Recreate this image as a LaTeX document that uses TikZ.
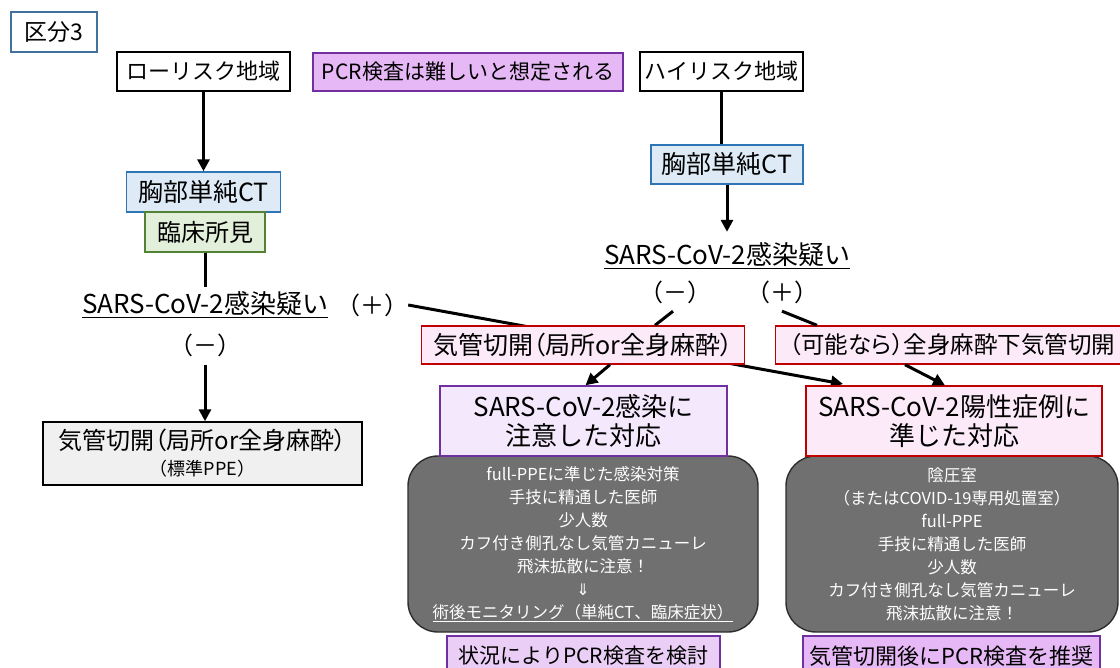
\documentclass[tikz,border=0pt]{standalone}
\usepackage{fontspec}
\setmainfont{Noto Sans CJK JP}
\newfontfamily\pfont[RawFeature=+palt]{Noto Sans CJK JP}
\newfontfamily\dvfont{DejaVu Sans}
\usetikzlibrary{arrows.meta,calc}
\definecolor{kubunB}{RGB}{65,113,156}
\definecolor{blueF}{RGB}{222,235,247}
\definecolor{blueB}{RGB}{46,117,182}
\definecolor{greenF}{RGB}{226,239,218}
\definecolor{greenB}{RGB}{84,130,53}
\definecolor{pinkF}{RGB}{252,234,248}
\definecolor{redB}{RGB}{192,0,0}
\definecolor{lavF}{RGB}{244,232,252}
\definecolor{purpB}{RGB}{112,48,160}
\definecolor{violF}{RGB}{230,184,245}
\definecolor{violL}{RGB}{234,206,246}
\definecolor{darkF}{RGB}{112,112,112}
\definecolor{darkB}{RGB}{45,45,45}
\definecolor{grayF}{RGB}{240,240,240}
\newcommand{\fs}[1]{\fontsize{#1}{#1}\selectfont}
\tikzset{
  box/.style={draw, line width=1.4pt, inner sep=0pt, align=center},
  lbl/.style={inner sep=0pt, align=center},
  conn/.style={line width=3pt},
  arr/.style={line width=3pt, -{Triangle[length=12pt,width=12pt]}},
  darkbox/.style={draw=darkB, fill=darkF, line width=1.4pt, rounded corners=30pt, inner sep=0pt, align=center, text=white, font={\fontsize{16.5}{23}\selectfont}},
}
\begin{document}
\begin{tikzpicture}[x=1pt,y=-1pt]
\useasboundingbox (0,0) rectangle (1120,668);
\clip (0,0) rectangle (1120,668);
\fill[white] (0,0) rectangle (1120,668);

% top row
\node[box, draw=kubunB, fill=white, minimum width=86pt, minimum height=40pt, font=\fs{23}] (kubun) at (54,32) {区分3};
\node[box, fill=white, minimum width=173pt, minimum height=39pt, font=\fs{22}] (low) at (203.5,71.5) {ローリスク地域};
\node[box, draw=purpB, fill=violF, minimum width=310pt, minimum height=38pt, font=\fs{21}] (pcr) at (468,72) {PCR検査は難しいと想定される};
\node[box, fill=white, minimum width=163pt, minimum height=39pt, font=\fs{22}] (high) at (721.5,71.5) {ハイリスク地域};

% left branch
\node[box, draw=blueB, fill=blueF, minimum width=154pt, minimum height=40pt, font=\fs{25}] (ctL) at (203.5,192) {胸部単純CT};
\node[box, draw=greenB, fill=greenF, minimum width=120pt, minimum height=40pt, font=\fs{24}] (clinL) at (205,232) {臨床所見};
\node[lbl, minimum height=36pt, font=\fs{26}] (susL) at (205,305) {\underline{SARS-CoV-2感染疑い}};
\node[lbl, minimum height=36pt, font=\fs{24}] (plusL) at (372,305) {（＋）};
\node[lbl, minimum height=40pt, font=\fs{24}] (minusL) at (205,345) {（－）};
\node[box, fill=grayF, minimum width=319pt, minimum height=63pt, font={\pfont\fontsize{24}{26}\selectfont}] (stdL) at (202.5,453.5)
  {気管切開（局所or全身麻酔）\\\normalfont\fs{18}（標準PPE）};

% right branch
\node[box, draw=blueB, fill=blueF, minimum width=152pt, minimum height=39pt, font=\fs{25}] (ctR) at (727,164.5) {胸部単純CT};
\node[lbl, minimum height=48pt, font=\fs{26}] (susR) at (727,256) {\underline{SARS-CoV-2感染疑い}};
\node[lbl, minimum height=30pt, font=\fs{24}] (minusR) at (675,292) {（－）};
\node[lbl, minimum height=30pt, font=\fs{24}] (plusR) at (782,292) {（＋）};

% long line behind boxes
\coordinate (posIn) at (843,384);
\draw[arr] (plusL.east) -- (posIn);

\node[box, draw=redB, fill=pinkF, minimum width=323pt, minimum height=38pt, font=\pfont\fs{25}] (trachR) at (583,345) {気管切開（局所or全身麻酔）};
\node[box, draw=redB, fill=pinkF, minimum width=352pt, minimum height=38pt, font=\pfont\fs{23.5}, anchor=west] (possible) at (775,345) {\hspace*{14pt}（可能なら）全身麻酔下気管切開\hspace*{22pt}};

\node[darkbox, minimum width=350pt, minimum height=176pt] (darkL) at (583,544)
  {full-PPEに準じた感染対策\\手技に精通した医師\\少人数\\カフ付き側孔なし気管カニューレ\\飛沫拡散に注意！\\{\dvfont\fs{16}⇓}\\\underline{術後モニタリング（単純CT、臨床症状）}};
\node[darkbox, minimum width=332pt, minimum height=176pt] (darkR) at (952,544)
  {陰圧室\\（またはCOVID-19専用処置室）\\full-PPE\\手技に精通した医師\\少人数\\カフ付き側孔なし気管カニューレ\\飛沫拡散に注意！};

\node[box, draw=purpB, fill=lavF, minimum width=287pt, minimum height=70pt, font={\fontsize{26}{29}\selectfont}] (attn) at (583.5,421)
  {SARS-CoV-2感染に\\注意した対応};
\node[box, draw=redB, fill=pinkF, minimum width=296pt, minimum height=70pt, font={\fontsize{26}{29}\selectfont}] (pos) at (954,421)
  {SARS-CoV-2陽性症例に\\準じた対応};

\node[box, draw=purpB, fill=violL, minimum width=273pt, minimum height=40pt, font=\fs{21}] (pcrL) at (583.5,656) {状況によりPCR検査を検討};
\node[box, draw=purpB, fill=violF, minimum width=297pt, minimum height=40pt, font=\fs{22}] (pcrR) at (951.5,656) {気管切開後にPCR検査を推奨};

% connectors
\draw[arr] (low.south) -- (low.south |- ctL.north);
\draw[conn] (clinL.south) -- (susL.north);
\draw[arr] (minusL.south) -- (minusL.south |- stdL.north);
\draw[conn] (high.south) -- (high.south |- ctR.north);
\draw[arr] (ctR.south) -- (susR.north);
\draw[conn] ($(minusR.south)+(-2,4)$) -- ($(trachR.north)+(72,0)$);
\draw[conn] ($(plusR.south)+(0,4)$) -- ($(possible.north west)+(42,0)$);
\draw[arr] ($(trachR.south)+(27,0)$) -- ($(attn.north)+(2,0)$);
\draw[arr] ($(possible.south west)+(130,0)$) -- ($(pos.north)+(-9,0)$);
\end{tikzpicture}
\end{document}
